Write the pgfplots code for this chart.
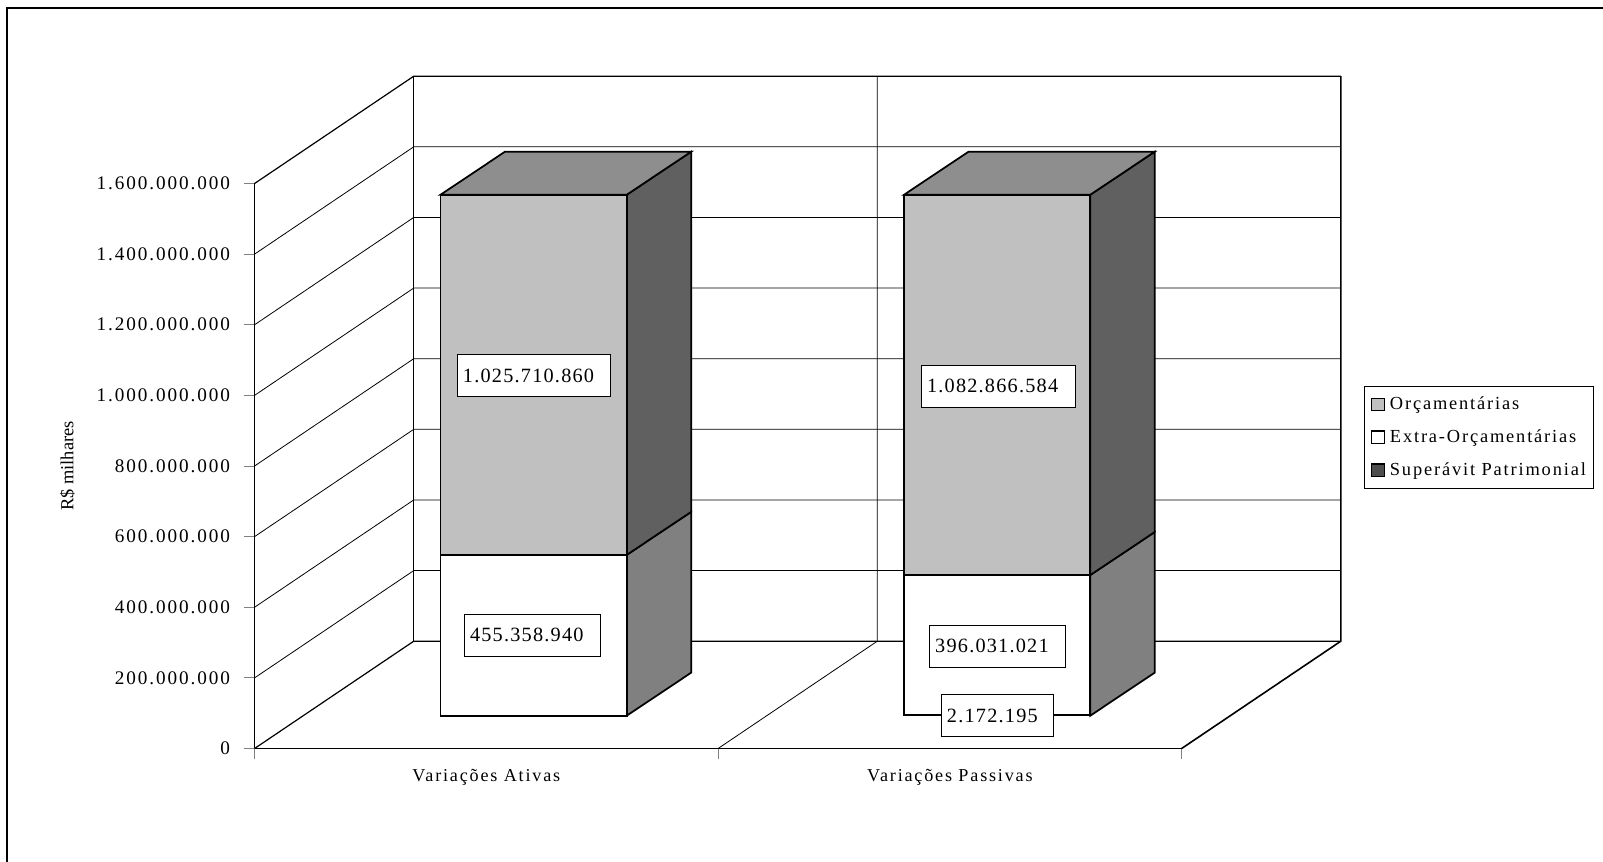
\documentclass[border=0pt]{standalone}
\usepackage{fontspec}
\setmainfont{Liberation Serif}
\newfontfamily\tk[LetterSpace=10]{Liberation Serif}
\newfontfamily\lb[LetterSpace=6]{Liberation Serif}
\usepackage{pgfplots}
\pgfplotsset{compat=1.18}

\definecolor{orcfront}{HTML}{C0C0C0}
\definecolor{orctop}{HTML}{8E8E8E}
\definecolor{orcside}{HTML}{606060}
\definecolor{extside}{HTML}{808080}
\definecolor{supfront}{HTML}{4D4D4D}

\tikzset{
  vlabel/.style={draw=black,line width=0.6pt,fill=white,font=\fontsize{15.2}{15.2}\selectfont\lb,
    minimum height=31.5pt,inner ysep=0pt,inner xsep=4.5pt,align=left},
}
\pgfplotsset{
  wall/.style={black,line width=0.6pt,forget plot},
  edge/.style={black,line width=1.3pt,line join=miter,forget plot},
  swatch/.style={legend image code/.code={
    \path[draw=none] (0pt,0pt) -- (13.2pt,0pt);
    \draw[black,line width=1pt,fill=#1] (1.5pt,-4.7pt) rectangle (10.9pt,4.7pt);}},
}

\begin{document}
\begin{tikzpicture}
\begin{axis}[
    scale only axis,
    width=695.3pt,
    height=423.75pt,
    xmin=0, xmax=2,
    ymin=0, ymax=1600000000,
    clip=false,
    axis x line=bottom,
    axis y line=left,
    axis line style={-,black,line width=0.6pt},
    tick style={gray,line width=0.7pt},
    tick align=outside,
    major tick length=8pt,
    xtick={0,1,2},
    xticklabels={},
    extra x ticks={0.5,1.5},
    extra x tick labels={Variações Ativas,Variações Passivas},
    extra x tick style={major tick length=0pt,
      xticklabel style={yshift=-11.7pt,font=\fontsize{13.6}{13.6}\selectfont\tk}},
    ytick={0,200000000,400000000,600000000,800000000,1000000000,1200000000,1400000000,1600000000},
    scaled y ticks=false,
    yticklabel style={xshift=-6.9pt,font=\fontsize{14.4}{14.4}\selectfont\tk,
      /pgf/number format/.cd,fixed,precision=0,1000 sep={.},assume math mode=true},
    ylabel={R\$ milhares},
    every axis y label/.style={at={(rel axis cs:-0.2018,0.5)},rotate=90,anchor=center,
      font=\fontsize{13.8}{13.8}\selectfont},
    legend cell align=left,
    legend style={at={(1.1966,0.6416)},anchor=north west,draw=black,line width=0.6pt,
      row sep=9.6pt,inner xsep=4pt,inner ysep=6pt,
      font=\fontsize{13.8}{13.8}\selectfont\tk},
  ]
  % walls and floor, depth offset 0.3434 / 303900000
  \addplot[wall] coordinates {(0,200000000) (0.3434,503900000) (2.3434,503900000)};
  \addplot[wall] coordinates {(0,400000000) (0.3434,703900000) (2.3434,703900000)};
  \addplot[wall] coordinates {(0,600000000) (0.3434,903900000) (2.3434,903900000)};
  \addplot[wall] coordinates {(0,800000000) (0.3434,1103900000) (2.3434,1103900000)};
  \addplot[wall] coordinates {(0,1000000000) (0.3434,1303900000) (2.3434,1303900000)};
  \addplot[wall] coordinates {(0,1200000000) (0.3434,1503900000) (2.3434,1503900000)};
  \addplot[wall] coordinates {(0,1400000000) (0.3434,1703900000) (2.3434,1703900000)};
  \addplot[wall,line width=0.9pt] coordinates {(0,1600000000) (0.3434,1903900000) (2.3434,1903900000)};
  \addplot[wall,line width=0.9pt] coordinates {(0,0) (0.3434,303900000) (2.3434,303900000)};
  \addplot[wall] coordinates {(1,0) (1.3434,303900000) (1.3434,1903900000)};
  \addplot[wall] coordinates {(0.3434,303900000) (0.3434,1903900000)};
  \addplot[wall,line width=1.2pt] coordinates {(2,0) (2.3434,303900000) (2.3434,1903900000)};

  % Variações Ativas: 0 + 455358940 + 1025710860 (bar top)
  \addplot[edge,fill=extside] coordinates {(0.8029,92900000) (0.9418,214700000) (0.9418,670058940) (0.8029,548258940)} -- cycle;
  \addplot[edge,fill=orcside] coordinates {(0.8029,548258940) (0.9418,670058940) (0.9418,1689969800) (0.8029,1568169800)} -- cycle;
  \addplot[edge,fill=orctop] coordinates {(0.4012,1568169800) (0.5401,1689969800) (0.9418,1689969800) (0.8029,1568169800)} -- cycle;
  \addplot[edge,fill=white] coordinates {(0.4012,92900000) (0.8029,92900000) (0.8029,548258940) (0.4012,548258940)} -- cycle;
  \addplot[edge,fill=orcfront] coordinates {(0.4012,548258940) (0.8029,548258940) (0.8029,1568169800) (0.4012,1568169800)} -- cycle;

  % Variações Passivas: 2172195 + 396031021 + 1082866584
  \addplot[edge,fill=extside] coordinates {(1.8029,92900000) (1.9418,214700000) (1.9418,612903216) (1.8029,491103216)} -- cycle;
  \addplot[edge,fill=orcside] coordinates {(1.8029,491103216) (1.9418,612903216) (1.9418,1689969800) (1.8029,1568169800)} -- cycle;
  \addplot[edge,fill=orctop] coordinates {(1.4012,1568169800) (1.5401,1689969800) (1.9418,1689969800) (1.8029,1568169800)} -- cycle;
  \addplot[edge,fill=white] coordinates {(1.4012,95072195) (1.8029,95072195) (1.8029,491103216) (1.4012,491103216)} -- cycle;
  \addplot[edge,fill=orcfront] coordinates {(1.4012,491103216) (1.8029,491103216) (1.8029,1568169800) (1.4012,1568169800)} -- cycle;
  \addplot[edge,line width=0.5pt,fill=supfront] coordinates {(1.4012,92900000) (1.8029,92900000) (1.8029,95072195) (1.4012,95072195)} -- cycle;

  \node[vlabel,text width=106pt] at (axis cs:0.6020,1055700000) {1.025.710.860};
  \node[vlabel,text width=93pt] at (axis cs:0.5986,320400000) {455.358.940};
  \node[vlabel,text width=106.8pt] at (axis cs:1.6043,1026700000) {1.082.866.584};
  \node[vlabel,text width=93pt] at (axis cs:1.6021,290300000) {396.031.021};
  \node[vlabel,text width=75.5pt] at (axis cs:1.6023,93500000) {2.172.195};

  \addlegendimage{swatch=orcfront}
  \addlegendentry{Orçamentárias}
  \addlegendimage{swatch=white}
  \addlegendentry{Extra-Orçamentárias}
  \addlegendimage{swatch=supfront}
  \addlegendentry{Superávit Patrimonial}
\end{axis}
% chart area border, cut by the page on the right and at the bottom
\pgfresetboundingbox
\path[use as bounding box] (-190.95pt,-85.125pt) rectangle (1011.3pt,561.375pt);
\draw[black,line width=1.6pt] (-185.7pt,-85.125pt) -- (-185.7pt,555.4pt) -- (1011.3pt,555.4pt);
\end{tikzpicture}
\end{document}
